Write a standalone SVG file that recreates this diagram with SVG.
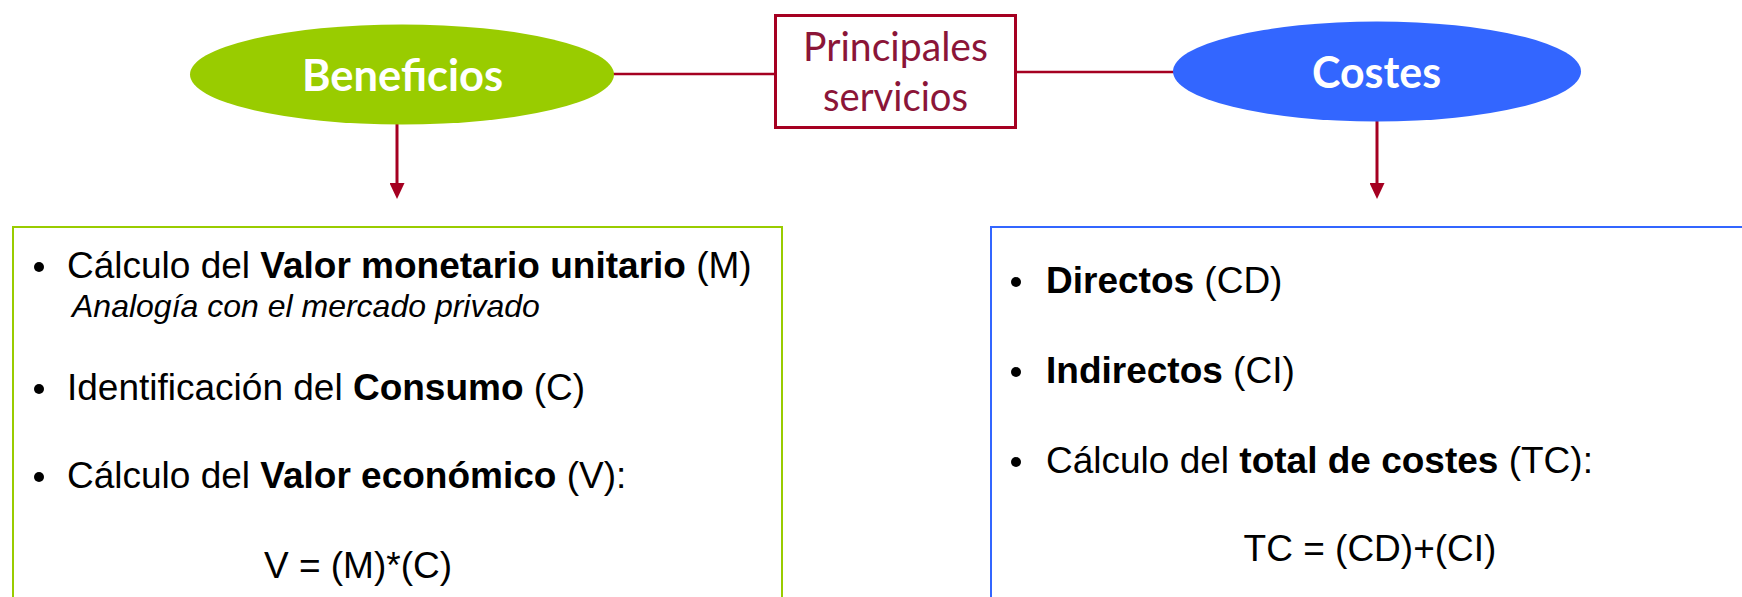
<svg xmlns="http://www.w3.org/2000/svg" width="1742" height="597" viewBox="0 0 1742 597">
  <defs>
    <marker id="arr" markerUnits="userSpaceOnUse" markerWidth="16" markerHeight="15" refX="0" refY="7.5" orient="auto">
      <path d="M0,0 L16,7.5 L0,15 z" fill="#A50021"/>
    </marker>
    <style>
      .conn { stroke: #A50021; stroke-width: 2.5; fill: none; }
      .arrow { stroke: #A50021; stroke-width: 3; fill: none; }
      .ell-label { font-family: Lato, "Open Sans", sans-serif; font-weight: bold; fill: #FFFFFF; text-anchor: middle; }
      .box-label { font-family: Lato, "Open Sans", sans-serif; fill: #8B1538; text-anchor: middle; font-size: 40px; }
      .body { font-family: "Liberation Sans", Arial, sans-serif; font-size: 37px; fill: #000000; }
      .b { font-weight: bold; }
      .it { font-style: italic; font-size: 32px; }
      .bullet { fill: #000000; }
    </style>
  </defs>

  <g id="connectors">
    <line class="conn" x1="613" y1="74" x2="774" y2="74"/>
    <line class="conn" x1="1017" y1="72" x2="1174" y2="72"/>
    <line class="arrow" x1="397" y1="124" x2="397" y2="183" marker-end="url(#arr)"/>
    <line class="arrow" x1="1377" y1="121" x2="1377" y2="183" marker-end="url(#arr)"/>
  </g>

  <g id="beneficios">
    <ellipse cx="402" cy="74.5" rx="212" ry="50" fill="#99CC00"/>
    <text class="ell-label" x="402.5" y="91" font-size="44" textLength="201" lengthAdjust="spacingAndGlyphs">Beneficios</text>
  </g>

  <g id="principales">
    <rect x="775.5" y="15.5" width="240" height="112" fill="#FFFFFF" stroke="#A50021" stroke-width="3"/>
    <text class="box-label" x="895.5" y="61" textLength="185" lengthAdjust="spacingAndGlyphs">Principales</text>
    <text class="box-label" x="895.5" y="111" textLength="145" lengthAdjust="spacingAndGlyphs">servicios</text>
  </g>

  <g id="costes">
    <ellipse cx="1377" cy="71.5" rx="204" ry="50" fill="#3366FF"/>
    <text class="ell-label" x="1376.5" y="87.5" font-size="44" textLength="129" lengthAdjust="spacingAndGlyphs">Costes</text>
  </g>

  <g id="beneficios-box">
    <rect x="13" y="227" width="769" height="400" fill="#FFFFFF" stroke="#99CC00" stroke-width="2"/>
    <circle class="bullet" cx="39" cy="267" r="5"/>
    <text class="body" x="67" y="278">Cálculo del <tspan class="b">Valor monetario unitario</tspan> (M)</text>
    <text class="body it" x="72" y="317">Analogía con el mercado privado</text>
    <circle class="bullet" cx="39" cy="389" r="5"/>
    <text class="body" x="67" y="400">Identificación del <tspan class="b">Consumo</tspan> (C)</text>
    <circle class="bullet" cx="39" cy="477" r="5"/>
    <text class="body" x="67" y="488">Cálculo del <tspan class="b">Valor económico</tspan> (V):</text>
    <text class="body" x="358" y="578" text-anchor="middle">V = (M)*(C)</text>
  </g>

  <g id="costes-box">
    <rect x="991" y="227" width="800" height="400" fill="#FFFFFF" stroke="#3366FF" stroke-width="2"/>
    <circle class="bullet" cx="1016" cy="282" r="5"/>
    <text class="body" x="1046" y="293"><tspan class="b">Directos</tspan> (CD)</text>
    <circle class="bullet" cx="1016" cy="372" r="5"/>
    <text class="body" x="1046" y="383"><tspan class="b">Indirectos</tspan> (CI)</text>
    <circle class="bullet" cx="1016" cy="462" r="5"/>
    <text class="body" x="1046" y="473">Cálculo del <tspan class="b">total de costes</tspan> (TC):</text>
    <text class="body" x="1370" y="561" text-anchor="middle">TC = (CD)+(CI)</text>
  </g>
</svg>
